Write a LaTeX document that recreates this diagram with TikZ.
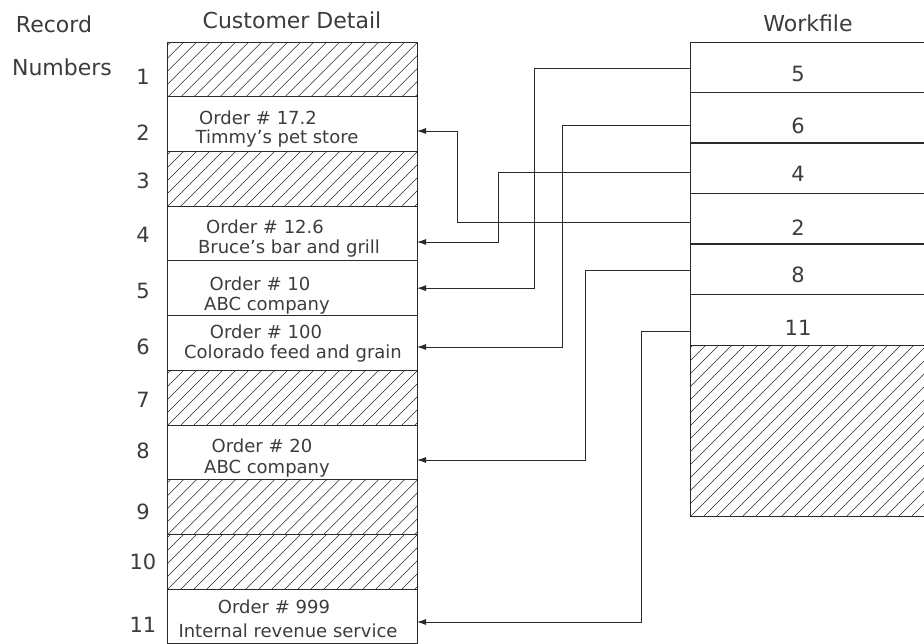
\documentclass[tikz,border=0pt]{standalone}
\usepackage{fontspec}
\setmainfont{DejaVu Sans}
\usetikzlibrary{arrows.meta,calc}
\definecolor{ink}{HTML}{2A2A2A}
\definecolor{tink}{HTML}{3C3C3C}
\begin{document}
\begin{tikzpicture}[x=1pt,y=-1pt,
  cell/.style={draw=ink, line width=0.8pt, minimum width=250pt, minimum height=54.7pt, inner sep=0pt, outer sep=0pt},
  wcell/.style={draw=ink, line width=0.8pt, minimum width=270pt, minimum height=50.5pt, inner sep=0pt, outer sep=0pt},
  hatchline/.style={draw=ink, line width=0.55pt},
  hatched/.style={path picture={\foreach \k in {0,...,45}{\draw[hatchline] ([xshift=\k*13pt-220pt]path picture bounding box.south west) -- ++(320pt,320pt);}}},
  head/.style={font=\fontsize{22}{24}\selectfont, text=tink, inner sep=0pt},
  num/.style={font=\fontsize{21}{24}\selectfont, text=tink, inner sep=0pt},
  txt/.style={font=\fontsize{18}{20}\selectfont, text=tink, inner sep=0pt, anchor=base},
  conn/.style={draw=ink, line width=0.8pt, -{Latex[length=9pt,width=6pt]}},
  sep/.style={draw=ink, line width=1.8pt}
]
\clip (0,0) rectangle (924,643);
% headings
\node[head, anchor=base] (hrec) at (54,32) {Record};
\node[head, anchor=base] (hnum) at (62,75) {Numbers};
\node[head, anchor=base] (hcd) at (292,28) {Customer Detail};
\node[head, anchor=base] (hwf) at (808,31) {Workfile};
% customer detail cells
\node[cell,hatched] (c1) at (292,69.35) {};
\node[cell] (c2) at (292,124.05) {};
\node[cell,hatched] (c3) at (292,178.75) {};
\node[cell] (c4) at (292,233.45) {};
\node[cell] (c5) at (292,288.15) {};
\node[cell] (c6) at (292,342.85) {};
\node[cell,hatched] (c7) at (292,397.55) {};
\node[cell] (c8) at (292,452.25) {};
\node[cell,hatched] (c9) at (292,506.95) {};
\node[cell,hatched] (c10) at (292,561.65) {};
\node[cell] (c11) at (292,616.35) {};
% record numbers
\node[num] (n1) at (143,77) {1};
\node[num] (n2) at (143,132.5) {2};
\node[num] (n3) at (143,181) {3};
\node[num] (n4) at (143,235) {4};
\node[num] (n5) at (143,291) {5};
\node[num] (n6) at (143,347) {6};
\node[num] (n7) at (143,400) {7};
\node[num] (n8) at (143,451) {8};
\node[num] (n9) at (143,511.5) {9};
\node[num] (n10) at (143,561.5) {10};
\node[num] (n11) at (143,625) {11};
% cell texts
\node[txt] (t2a) at (258,124) {Order \# 17.2};
\node[txt] (t2b) at (277,143) {Timmy's pet store};
\node[txt] (t4a) at (265,233) {Order \# 12.6};
\node[txt] (t4b) at (289,253) {Bruce's bar and grill};
\node[txt] (t5a) at (260,290) {Order \# 10};
\node[txt] (t5b) at (267,310) {ABC company};
\node[txt] (t6a) at (266,338) {Order \# 100};
\node[txt] (t6b) at (293,358) {Colorado feed and grain};
\node[txt] (t8a) at (262,452) {Order \# 20};
\node[txt] (t8b) at (267,473) {ABC company};
\node[txt] (t11a) at (274,613) {Order \# 999};
\node[txt] (t11b) at (288,637) {Internal revenue service};
% workfile cells
\node[wcell] (w5) at (825,67.25) {};
\node[wcell] (w6) at (825,117.75) {};
\node[wcell] (w4) at (825,168.25) {};
\node[wcell] (w2) at (825,218.75) {};
\node[wcell] (w8) at (825,269.25) {};
\node[wcell] (w11) at (825,319.75) {};
\node[wcell,minimum height=171pt,hatched] (wh) at (825,430.5) {};
\draw[sep] (w6.south west) -- (w6.south east);
\draw[sep] (w4.south west) -- (w4.south east);
\draw[sep] (w2.south west) -- (w2.south east);
\draw[sep] (w8.south west) -- (w8.south east);
% workfile numbers
\node[num] (m5) at (798,74) {5};
\node[num] (m6) at (798,126) {6};
\node[num] (m4) at (798,173.5) {4};
\node[num] (m2) at (798,227.5) {2};
\node[num] (m8) at (798,275) {8};
\node[num] (m11) at (798,327.5) {11};
% connectors
\draw[conn] ([yshift=-0.75pt]w5.west) -- ++(-156,0) |- (c5.east);
\draw[conn] ([yshift=-7.25pt]w6.west) -- ++(-128,0) |- ([yshift=-4.15pt]c6.east);
\draw[conn] ([yshift=-3.75pt]w4.west) -- ++(-192,0) |- ([yshift=-8.55pt]c4.east);
\draw[conn] ([yshift=-3.25pt]w2.west) -- ++(-233,0) |- ([yshift=-6.95pt]c2.east);
\draw[conn] ([yshift=-0.75pt]w8.west) -- ++(-105,0) |- ([yshift=-7.75pt]c8.east);
\draw[conn] ([yshift=-11.25pt]w11.west) -- ++(-49,0) |- ([yshift=-5.65pt]c11.east);
\end{tikzpicture}
\end{document}
